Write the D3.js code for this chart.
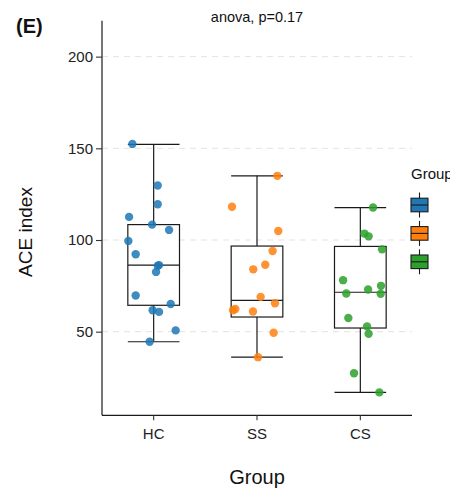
<!DOCTYPE html>
<html lang="en">
<head>
<meta charset="utf-8">
<title>ACE index by group</title>
<script src="https://d3js.org/d3.v7.min.js"></script>
<style>
  body { margin: 0; padding: 0; background: #fff; }
  svg { display: block; font-family: "Liberation Sans", Arial, sans-serif; }
</style>
</head>
<body>
<div id="chart"></div>
<script>
// groups and their colours
var groups = ["HC", "SS", "CS"];
var groupColors = ["#1F77B4", "#FF7F0E", "#2CA02C"];

// ACE index values
var hcValues = [152.4, 129.7, 119.5, 112.6, 108.4, 105.5, 99.5, 92.2, 86.3, 86.0, 82.6, 69.7, 65.1, 61.7, 60.8, 50.7, 44.5];
var ssValues = [135.0, 118.1, 104.9, 94.0, 86.5, 84.0, 69.0, 65.5, 62.4, 61.7, 61.0, 49.4, 36.1];
var csValues = [117.7, 103.5, 102.0, 94.9, 78.1, 75.0, 73.0, 70.8, 70.7, 57.5, 52.9, 48.9, 27.3, 16.9];

// horizontal jitter of each point, in category units
var hcJitter = [-0.206, 0.039, 0.039, -0.238, -0.015, 0.149, -0.245, -0.174, 0.052, 0.04, 0.023, -0.174, 0.165, -0.01, 0.052, 0.213, -0.039];
var ssJitter = [0.197, -0.242, 0.206, 0.151, 0.08, -0.036, 0.035, 0.174, -0.21, -0.232, -0.039, 0.161, 0.01];
var csJitter = [0.123, 0.039, 0.08, 0.21, -0.167, 0.2, 0.075, -0.136, 0.197, -0.116, 0.065, 0.08, -0.061, 0.184];

// box summaries: lower whisker, Q1, median, Q3, upper whisker
var hcBox = [44.5, 64.4, 86.3, 108.4, 152.2];
var ssBox = [36.1, 58.0, 67.1, 96.7, 135.0];
var csBox = [16.9, 52.0, 71.5, 96.5, 117.7];

var yTicks = [50, 100, 150, 200];
var yDomain = [4.4, 219.6];
var pLabel = "anova, p=0.17";

var W = 450, H = 489;
var pLeft = 102, pRight = 412, pTop = 20.7, pBottom = 415.3;

var svg = d3.select("#chart").append("svg")
  .attr("width", W).attr("height", H);

var x = d3.scaleBand().domain(groups).range([pLeft, pRight]).padding(0);
var y = d3.scaleLinear().domain(yDomain).range([pBottom, pTop]);
var color = d3.scaleOrdinal().domain(groups).range(groupColors);
var step = x.bandwidth();
var cx = function(g) { return x(g) + step / 2; };

var series = [
  { g: "HC", vals: hcValues, jit: hcJitter, box: hcBox },
  { g: "SS", vals: ssValues, jit: ssJitter, box: ssBox },
  { g: "CS", vals: csValues, jit: csJitter, box: csBox }
];

// dashed grid lines
svg.append("g").selectAll("line")
  .data(yTicks).join("line")
  .attr("x1", pLeft).attr("x2", pRight)
  .attr("y1", function(d) { return y(d); }).attr("y2", function(d) { return y(d); })
  .attr("stroke", "#e3e3e3").attr("stroke-width", 1)
  .attr("stroke-dasharray", "6,5");

// boxes
var boxW = step * 0.5;
var bx = svg.append("g").selectAll("g").data(series).join("g");
bx.append("line")
  .attr("x1", function(d) { return cx(d.g); }).attr("x2", function(d) { return cx(d.g); })
  .attr("y1", function(d) { return y(d.box[0]); }).attr("y2", function(d) { return y(d.box[4]); })
  .attr("stroke", "#1a1a1a").attr("stroke-width", 1.2);
bx.append("rect")
  .attr("x", function(d) { return cx(d.g) - boxW / 2; })
  .attr("y", function(d) { return y(d.box[3]); })
  .attr("width", boxW)
  .attr("height", function(d) { return y(d.box[1]) - y(d.box[3]); })
  .attr("fill", "#fff").attr("stroke", "#1a1a1a").attr("stroke-width", 1.2);
[0, 2, 4].forEach(function(k) {
  bx.append("line")
    .attr("x1", function(d) { return cx(d.g) - boxW / 2; })
    .attr("x2", function(d) { return cx(d.g) + boxW / 2; })
    .attr("y1", function(d) { return y(d.box[k]); })
    .attr("y2", function(d) { return y(d.box[k]); })
    .attr("stroke", "#1a1a1a").attr("stroke-width", 1.2);
});

// jittered points
series.forEach(function(s) {
  svg.append("g").selectAll("circle")
    .data(s.vals).join("circle")
    .attr("cx", function(d, i) { return cx(s.g) + s.jit[i] * step; })
    .attr("cy", function(d) { return y(d); })
    .attr("r", 4.2)
    .attr("fill", color(s.g))
    .attr("fill-opacity", 0.85);
});

// y axis
var yAxis = svg.append("g")
  .attr("transform", "translate(" + pLeft + ",0)")
  .call(d3.axisLeft(y).tickValues(yTicks).tickSize(6).tickPadding(3));
yAxis.select(".domain").attr("d", "M0," + pTop + "V" + pBottom);

// x axis
var xAxis = svg.append("g")
  .attr("transform", "translate(0," + pBottom + ")")
  .call(d3.axisBottom(x).tickSize(5).tickPadding(8));
xAxis.select(".domain").attr("d", "M" + pLeft + ",0H" + pRight);

[yAxis, xAxis].forEach(function(a) {
  a.attr("font-size", null).attr("font-family", null);
  a.select(".domain").attr("stroke", "#1a1a1a").attr("stroke-width", 1.2);
  a.selectAll(".tick line").attr("stroke", "#333").attr("stroke-width", 1.1);
  a.selectAll(".tick text").attr("fill", "#222").style("font-size", "15px");
});

// titles
svg.append("text").attr("x", 257).attr("y", 484)
  .attr("text-anchor", "middle").style("font-size", "20px").attr("fill", "#111")
  .text("Group");
svg.append("text").attr("transform", "translate(32,232) rotate(-90)")
  .attr("text-anchor", "middle").style("font-size", "19px").attr("fill", "#111")
  .text("ACE index");
svg.append("text").attr("x", 257).attr("y", 22)
  .attr("text-anchor", "middle").style("font-size", "14.5px").attr("fill", "#111")
  .text(pLabel);
svg.append("text").attr("x", 16).attr("y", 33)
  .style("font-size", "20px").style("font-weight", "bold").attr("fill", "#111")
  .text("(E)");

// legend
var leg = svg.append("g");
leg.append("text").attr("x", 411).attr("y", 179)
  .style("font-size", "15px").attr("fill", "#111").text("Group");
var keys = leg.selectAll("g.key").data(groups).join("g")
  .attr("class", "key")
  .attr("transform", function(d, i) { return "translate(419.5," + (205 + i * 28.4) + ")"; });
keys.append("line").attr("y1", -12.5).attr("y2", 12.5)
  .attr("stroke", "#1a1a1a").attr("stroke-width", 1.1);
keys.append("rect").attr("x", -8.5).attr("y", -6.8).attr("width", 17).attr("height", 13.6)
  .attr("fill", function(d) { return color(d); })
  .attr("stroke", "#1a1a1a").attr("stroke-width", 1.1);
keys.append("line").attr("x1", -8.5).attr("x2", 8.5)
  .attr("stroke", "#1a1a1a").attr("stroke-width", 1.1);
</script>
</body>
</html>
